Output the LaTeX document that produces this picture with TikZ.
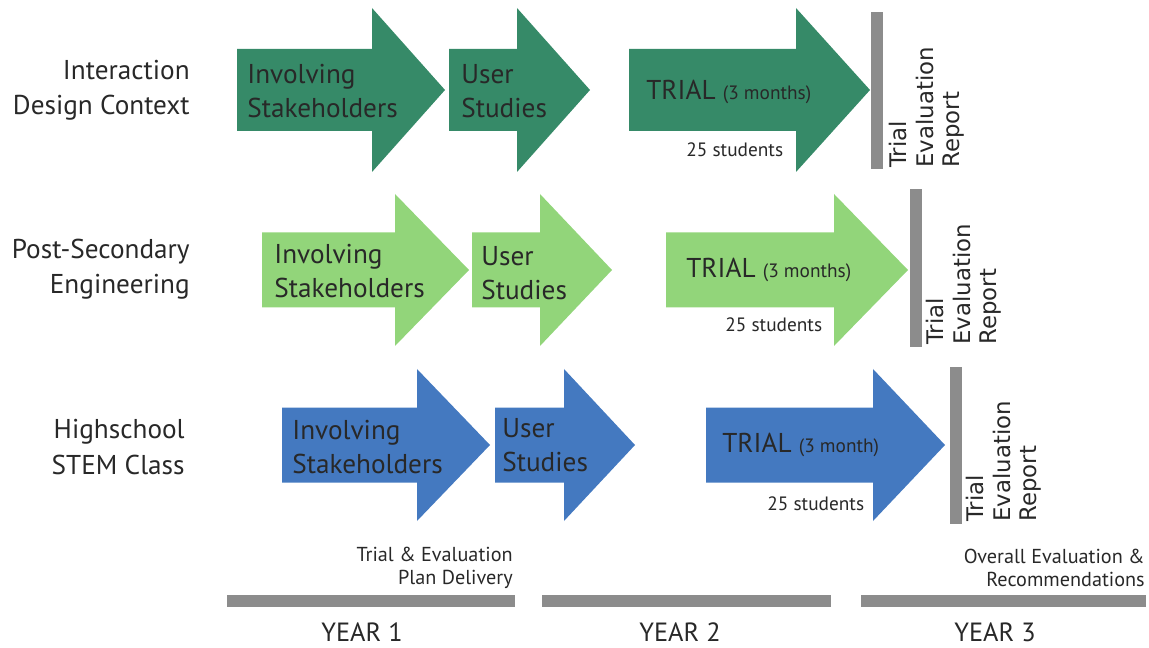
\documentclass[tikz,border=0pt]{standalone}
\usepackage{fontspec}
\setmainfont{PT Sans}
\newfontfamily\rotfont{DejaVu Sans}
\usetikzlibrary{calc}

\definecolor{darkgreen}{RGB}{54,138,104}
\definecolor{lightgreen}{RGB}{146,213,122}
\definecolor{midblue}{RGB}{68,121,192}
\definecolor{bargray}{RGB}{140,140,140}
\definecolor{txt}{RGB}{40,40,40}

% block arrow: start, head base, tip, centre y, body half, head half, colour
\newcommand{\bigarrow}[7]{%
  \fill[#7] (#1,#4-#5) -- (#2,#4-#5) -- (#2,#4-#6) -- (#3,#4)
    -- (#2,#4+#6) -- (#2,#4+#5) -- (#1,#4+#5) -- cycle;}

\tikzset{
  rowlabel/.style={anchor=east,align=right,inner sep=0pt,text=txt,
    font=\fontsize{15.5}{20}\selectfont},
  arrowtext/.style={anchor=west,align=left,inner sep=0pt,text=txt,
    font=\fontsize{15.5}{19.5}\selectfont},
  countlabel/.style={anchor=west,inner sep=0pt,text=txt,
    font=\fontsize{11}{12}\selectfont},
  report/.style={rotate=90,anchor=north west,align=left,inner sep=0pt,
    text=txt,font=\rotfont\fontsize{13}{15}\selectfont},
  note/.style={anchor=east,align=right,inner sep=0pt,text=txt,
    font=\fontsize{11.5}{13}\selectfont},
  yearlabel/.style={inner sep=0pt,text=txt,font=\fontsize{15}{16}\selectfont}
}
\newcommand{\months}[1]{{\fontsize{11}{12}\selectfont(#1)}}

\begin{document}
\begin{tikzpicture}[x=0.02cm,y=-0.02cm]
  \useasboundingbox (0,0) rectangle (1149,648);

  % row 1
  \begin{scope}
    \bigarrow{237}{372}{445}{90}{41}{82}{darkgreen}
    \bigarrow{449}{517}{590}{90}{41}{82}{darkgreen}
    \bigarrow{629}{796}{870}{90}{41}{82}{darkgreen}
    \fill[bargray] (871,12) rectangle (883,169);
    \node[rowlabel] (l1) at (190,90) {Interaction\\Design Context};
    \node[arrowtext] (r1a) at (247,91) {Involving\\Stakeholders};
    \node[arrowtext] (r1b) at (461,91) {User\\Studies};
    \node[arrowtext] (r1c) at (646,92) {TRIAL \months{3 months}};
    \node[countlabel] (c1) at (686,150) {25 students};
    \node[report] (e1) at (889,168) {Trial\\Evaluation\\Report};
  \end{scope}

  % row 2
  \begin{scope}
    \bigarrow{262}{395}{469}{270}{37.5}{76}{lightgreen}
    \bigarrow{472}{540}{612}{270}{37.5}{76}{lightgreen}
    \bigarrow{666}{834}{908}{270}{37.5}{76}{lightgreen}
    \fill[bargray] (910,189) rectangle (922,347);
    \node[rowlabel] (l2) at (190,269) {Post-Secondary\\Engineering};
    \node[arrowtext] (r2a) at (274,271) {Involving\\Stakeholders};
    \node[arrowtext] (r2b) at (481,273) {User\\Studies};
    \node[arrowtext] (r2c) at (686,270) {TRIAL \months{3 months}};
    \node[countlabel] (c2) at (725,325) {25 students};
    \node[report] (e2) at (926,345) {Trial\\Evaluation\\Report};
  \end{scope}

  % row 3
  \begin{scope}
    \bigarrow{282}{417}{490}{445}{37.5}{76}{midblue}
    \bigarrow{495}{564}{635}{445}{37.5}{76}{midblue}
    \bigarrow{706}{873}{945}{445}{37.5}{76}{midblue}
    \fill[bargray] (950,367) rectangle (962,524);
    \node[rowlabel] (l3) at (185,447) {Highschool\\STEM Class};
    \node[arrowtext] (r3a) at (292,447) {Involving\\Stakeholders};
    \node[arrowtext] (r3b) at (502,445) {User\\Studies};
    \node[arrowtext] (r3c) at (722,445) {TRIAL \months{3 month}};
    \node[countlabel] (c3) at (767,504) {25 students};
    \node[report] (e3) at (966,522) {Trial\\Evaluation\\Report};
  \end{scope}

  % years
  \fill[bargray] (227,595) rectangle (515,607);
  \fill[bargray] (542,595) rectangle (831,607);
  \fill[bargray] (861,595) rectangle (1146,607);
  \node[note] (d1) at (513,568) {Trial \& Evaluation\\Plan Delivery};
  \node[note] (d3) at (1145,568) {Overall Evaluation \&\\Recommendations};
  \node[yearlabel] (y1) at (362,632) {YEAR 1};
  \node[yearlabel] (y2) at (680,632) {YEAR 2};
  \node[yearlabel] (y3) at (995,632) {YEAR 3};

\end{tikzpicture}
\end{document}
